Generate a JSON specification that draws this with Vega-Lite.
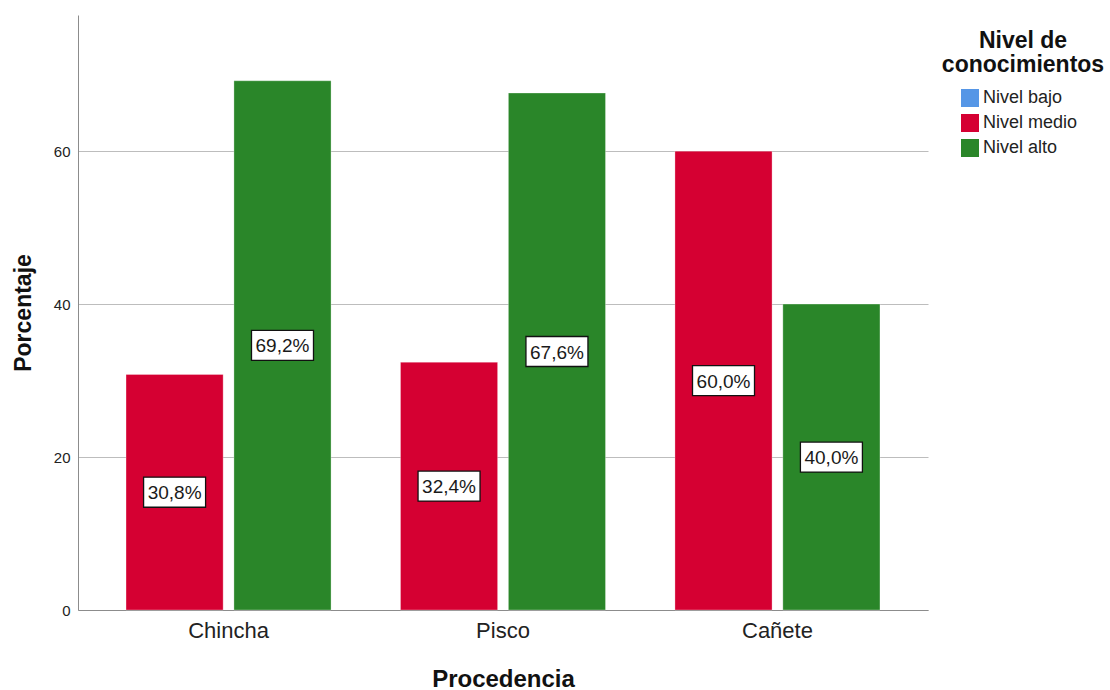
{
  "$schema": "https://vega.github.io/schema/vega-lite/v6.json",
  "width": 850,
  "height": 595,
  "autosize": {"type": "none"},
  "padding": {"left": 78, "top": 15, "right": 182, "bottom": 80},
  "background": "white",
  "config": {
    "font": "Liberation Sans",
    "view": {"stroke": null},
    "locale": {"number": {"decimal": ",", "thousands": ".", "grouping": [3], "currency": ["", "%"]}}
  },
  "data": {
    "values": [
      {"Procedencia": "Chincha", "Nivel": "Nivel medio", "pct": 30.8},
      {"Procedencia": "Chincha", "Nivel": "Nivel alto", "pct": 69.2},
      {"Procedencia": "Pisco", "Nivel": "Nivel medio", "pct": 32.4},
      {"Procedencia": "Pisco", "Nivel": "Nivel alto", "pct": 67.6},
      {"Procedencia": "Cañete", "Nivel": "Nivel medio", "pct": 60.0},
      {"Procedencia": "Cañete", "Nivel": "Nivel alto", "pct": 40.0}
    ]
  },
  "encoding": {
    "x": {
      "field": "Procedencia",
      "type": "nominal",
      "sort": ["Chincha", "Pisco", "Cañete"],
      "scale": {"paddingInner": 0.253, "paddingOuter": 0.175},
      "axis": {
        "title": "Procedencia",
        "labelAngle": 0,
        "ticks": false,
        "labelPadding": 10,
        "labelFontSize": 22,
        "labelColor": "#222222",
        "titleFontSize": 24,
        "titleFontWeight": "bold",
        "titleColor": "#111111",
        "titlePadding": 26,
        "domainColor": "#8c8c8c",
        "grid": false
      }
    },
    "xOffset": {
      "field": "Nivel",
      "type": "nominal",
      "sort": ["Nivel medio", "Nivel alto"],
      "scale": {"domain": ["Nivel medio", "Nivel alto"], "paddingInner": 0.1, "paddingOuter": 0}
    }
  },
  "layer": [
    {
      "mark": {"type": "bar", "stroke": "#ffffff", "strokeWidth": 0.6, "strokeOpacity": 0.5},
      "encoding": {
        "y": {
          "field": "pct",
          "type": "quantitative",
          "scale": {"domain": [0, 77.8], "nice": false},
          "axis": {
            "title": "Porcentaje",
            "values": [0, 20, 40, 60],
            "ticks": false,
            "labelPadding": 8,
            "labelFontSize": 15,
            "labelColor": "#222222",
            "titleFontSize": 23,
            "titleFontWeight": "bold",
            "titleColor": "#111111",
            "titlePadding": 18,
            "domainColor": "#8c8c8c",
            "gridColor": "#bdbdbd",
            "gridWidth": 1
          }
        },
        "color": {
          "field": "Nivel",
          "type": "nominal",
          "scale": {
            "domain": ["Nivel bajo", "Nivel medio", "Nivel alto"],
            "range": ["#5596e6", "#d50032", "#2a8629"]
          },
          "legend": {
            "title": ["Nivel de", "conocimientos"],
            "orient": "none",
            "legendX": 864,
            "legendY": 15,
            "titleFontSize": 23,
            "titleFontWeight": "bold",
            "titleColor": "#111111",
            "titleAnchor": "middle",
            "titleAlign": "center",
            "titleLineHeight": 24,
            "titlePadding": 12,
            "symbolType": "square",
            "symbolSize": 324,
            "symbolStrokeWidth": 0,
            "symbolOffset": -8,
            "labelOffset": 4,
            "labelFontSize": 18,
            "labelColor": "#222222",
            "rowPadding": 7
          }
        }
      }
    },
    {
      "mark": {
        "type": "point",
        "shape": "M-1,-0.484H1V0.484H-1Z",
        "size": 3844,
        "filled": true,
        "fill": "#ffffff",
        "stroke": "#111111",
        "strokeWidth": 1.3,
        "opacity": 1
      },
      "encoding": {
        "y": {"field": "pct", "type": "quantitative", "scale": {"domain": [0, 155.6], "nice": false}, "axis": null}
      }
    },
    {
      "mark": {"type": "text", "fontSize": 19, "color": "#1a1a1a", "baseline": "middle", "align": "center", "dy": 1},
      "encoding": {
        "y": {"field": "pct", "type": "quantitative", "scale": {"domain": [0, 155.6], "nice": false}, "axis": null},
        "text": {"field": "pct", "type": "quantitative", "format": "$.1f"}
      }
    }
  ],
  "resolve": {"scale": {"y": "independent"}}
}
